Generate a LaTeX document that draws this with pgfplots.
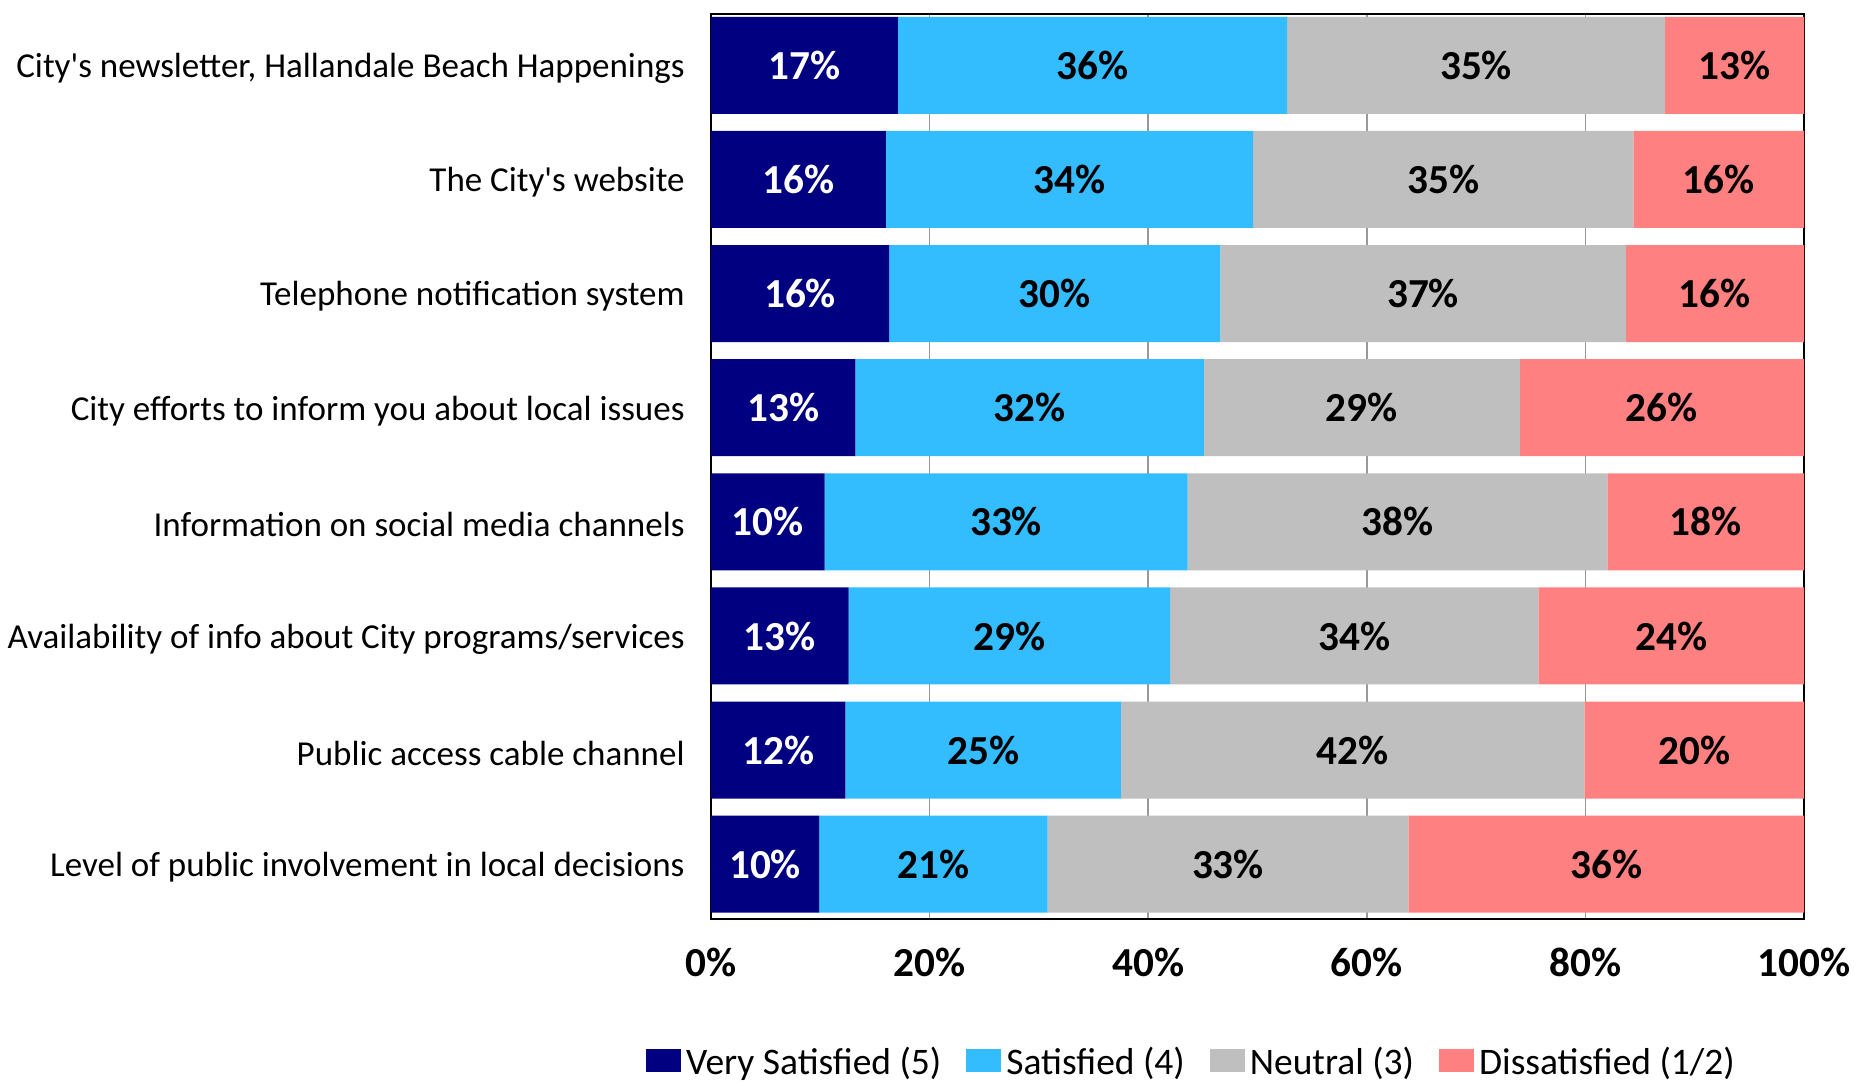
\documentclass[border=0pt]{standalone}
\usepackage{fontspec}
\setmainfont{Carlito}
\usepackage{pgfplots}
\usepackage{pgfplotstable}
\pgfplotsset{compat=1.18}
\definecolor{vsat}{RGB}{0,0,128}
\definecolor{sat}{RGB}{51,189,255}
\definecolor{neu}{RGB}{191,191,191}
\definecolor{dis}{RGB}{255,128,128}
\pgfplotsset{
  sqlegend/.style={legend image code/.code={\fill[##1] (0pt,-3.5pt) rectangle (14pt,5.7pt);}},
}
\pgfplotstableread{
y vs sat neu dis
7 17.1 35.6 34.6 12.7
6 16.0 33.6 34.8 15.6
5 16.3 30.3 37.1 16.3
4 13.2 31.9 28.9 26.0
3 10.4 33.2 38.4 18.0
2 12.6 29.4 33.7 24.3
1 12.3 25.2 42.4 20.1
0 9.9 20.9 33.0 36.2
}\datatable
\newcommand{\q}{\textquotesingle}
\begin{document}
\begin{tikzpicture}
\begin{axis}[name=ax, scale only axis, width=437.2pt, height=362pt,
  xbar stacked, bar width=0.85, disabledatascaling,
  xmin=0, xmax=100, ymin=-0.48, ymax=7.45,
  ytick={0,...,7},
  yticklabels={Level of public involvement in local decisions,
    Public access cable channel,
    Availability of info about City programs/services,
    Information on social media channels,
    City efforts to inform you about local issues,
    Telephone notification system,
    The City\q s website,
    City\q s newsletter{,} Hallandale Beach Happenings},
  yticklabel style={font=\fontsize{14}{16}\selectfont, xshift=-7pt, yshift=-1.2pt},
  xtick={0,20,40,60,80,100},
  xticklabels={0\%,20\%,40\%,60\%,80\%,100\%},
  xticklabel style={font=\fontsize{16.5}{19}\selectfont\bfseries, anchor=north, yshift=-8pt},
  major tick length=0pt,
  xmajorgrids, grid style={gray!80, line width=0.6pt},
  axis line style={line width=1.1pt},
  nodes near coords={\pgfmathprintnumber[fixed,precision=0,assume math mode=true]{\pgfplotspointmeta}\%},
  every node near coord/.append style={font=\fontsize{16.5}{19}\selectfont\bfseries, anchor=center},
  legend columns=4,
  legend style={at={(0.441,-0.159)}, anchor=center, draw=none, fill=none,
    font=\fontsize{15}{18}\selectfont,
    /tikz/every even column/.append style={column sep=8pt}},
]
\addplot[fill=vsat, draw=none, sqlegend, every node near coord/.append style={text=white}] table[x=vs, y=y] {\datatable};
\addplot[fill=sat, draw=none, sqlegend, every node near coord/.append style={text=black}] table[x=sat, y=y] {\datatable};
\addplot[fill=neu, draw=none, sqlegend, every node near coord/.append style={text=black}] table[x=neu, y=y] {\datatable};
\addplot[fill=dis, draw=none, sqlegend, every node near coord/.append style={text=black}] table[x=dis, y=y] {\datatable};
\legend{Very Satisfied (5), Satisfied (4), Neutral (3), Dissatisfied (1/2)}
\draw[line width=1.1pt] (rel axis cs:0,0) rectangle (rel axis cs:1,1);
\end{axis}
\pgfresetboundingbox
\path ([shift={(-284.4pt,-66.4pt)}]ax.south west) rectangle ([shift={(464.8pt,367.6pt)}]ax.south west);
\end{tikzpicture}
\end{document}
